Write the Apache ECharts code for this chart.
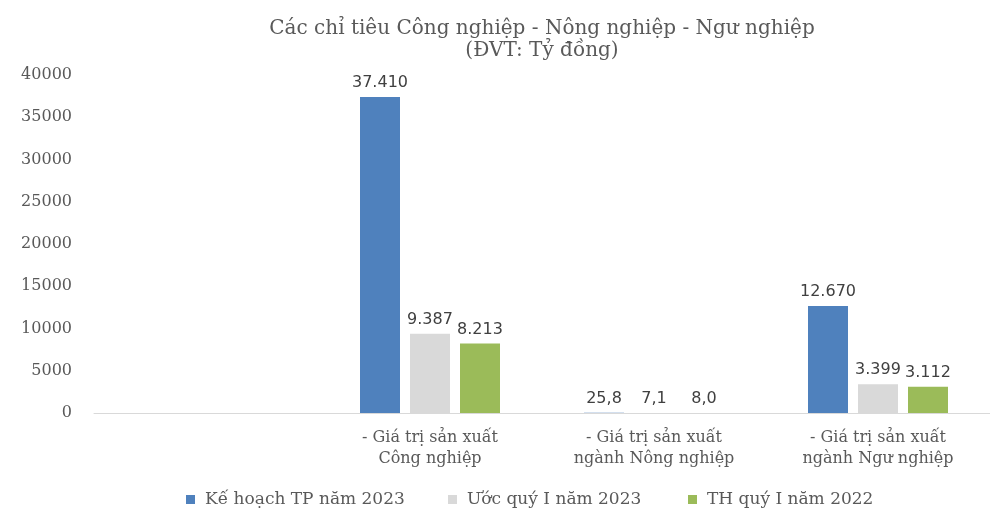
<!DOCTYPE html>
<html>
<head>
<meta charset="utf-8">
<script src="https://cdn.jsdelivr.net/npm/echarts@6/dist/echarts.min.js"></script>
<style>
  html, body { margin: 0; padding: 0; background: #fff; }
  #chart { width: 990px; height: 509px; }
</style>
</head>
<body>
<div id="chart"></div>
<script>
// data (first category is an empty slot)
const categories = ['', '- Giá trị sản xuất\nCông nghiệp', '- Giá trị sản xuất\nngành Nông nghiệp', '- Giá trị sản xuất\nngành Ngư nghiệp'];
const seriesNames = ['Kế hoạch TP năm 2023', 'Ước quý I năm 2023', 'TH quý I năm 2022'];
const keHoach2023 = [null, 37410, 25.8, 12670];
const uocQuyI2023 = [null, 9387, 7.1, 3399];
const thQuyI2022 = [null, 8213, 8.0, 3112];
const yTicks = [0, 5000, 10000, 15000, 20000, 25000, 30000, 35000, 40000];

const colors = ['#4f81bd', '#d9d9d9', '#9bbb59'];
const serif = '"DejaVu Serif", "Liberation Serif", serif';
const legendLefts = [186, 448, 688];

// Vietnamese number style: dot for thousands, comma for decimals
function fmt(v) {
  if (v == null) return '';
  if (v < 100) return v.toFixed(1).replace('.', ',');
  return String(Math.round(v)).replace(/\B(?=(\d{3})+(?!\d))/g, '.');
}

let myChart = echarts.init(document.getElementById('chart'));

function makeSeries(name, data, color) {
  return {
    name: name,
    type: 'bar',
    data: data,
    barWidth: 40,
    barGap: '25%',
    itemStyle: { color: color },
    label: {
      show: true,
      position: 'top',
      distance: 6,
      color: '#404040',
      fontFamily: '"DejaVu Sans", sans-serif',
      fontSize: 16,
      formatter: p => fmt(p.value)
    }
  };
}

// one legend per item so each sits where the picture has it
function makeLegend(name, i) {
  return {
    top: 491,
    left: legendLefts[i],
    padding: 0,
    itemWidth: 9,
    itemHeight: 9,
    icon: 'rect',
    textStyle: { fontFamily: serif, fontSize: 17, color: '#595959', padding: [0, 0, 0, 5] },
    data: [name]
  };
}

let option = {
  animation: false,
  title: {
    text: 'Các chỉ tiêu Công nghiệp - Nông nghiệp - Ngư nghiệp\n(ĐVT: Tỷ đồng)',
    left: 537,
    textAlign: 'center',
    top: 13,
    textStyle: {
      fontFamily: serif,
      fontSize: 20,
      fontWeight: 'normal',
      color: '#595959',
      lineHeight: 22
    }
  },
  legend: seriesNames.map(makeLegend),
  grid: {
    left: 94,
    top: 75,
    width: 904,
    height: 338,
    containLabel: false
  },
  xAxis: {
    type: 'category',
    data: categories,
    axisLine: { lineStyle: { color: '#d9d9d9', width: 1 } },
    axisTick: { show: false },
    axisLabel: {
      interval: 0,
      margin: 14,
      fontFamily: serif,
      fontSize: 16,
      lineHeight: 21,
      color: '#595959'
    }
  },
  yAxis: {
    type: 'value',
    min: yTicks[0],
    max: yTicks[yTicks.length - 1],
    interval: 5000,
    axisLine: { show: false },
    axisTick: { show: false },
    splitLine: { show: false },
    axisLabel: {
      margin: 22,
      fontFamily: serif,
      fontSize: 16,
      color: '#595959',
      formatter: v => String(v)
    }
  },
  series: [
    makeSeries(seriesNames[0], keHoach2023, colors[0]),
    makeSeries(seriesNames[1], uocQuyI2023, colors[1]),
    makeSeries(seriesNames[2], thQuyI2022, colors[2])
  ]
};

option && myChart.setOption(option);
</script>
</body>
</html>
